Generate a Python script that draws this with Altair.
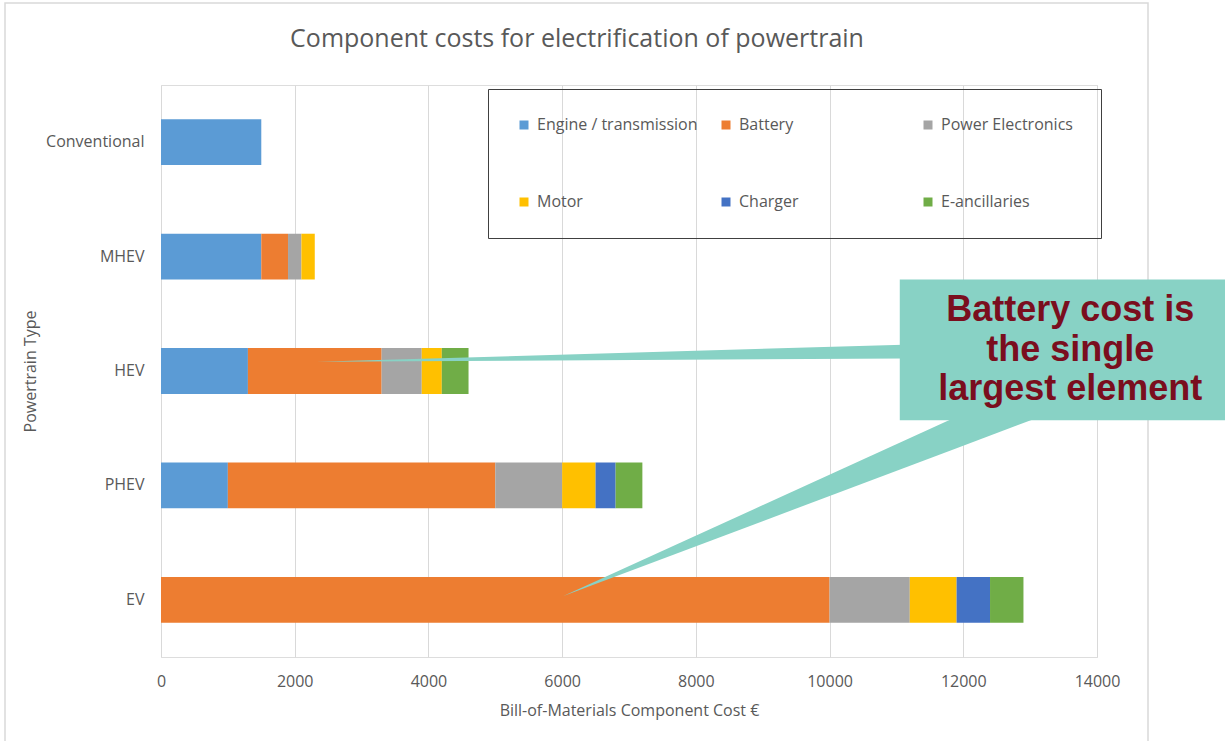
import altair as alt
import pandas as pd

# Bill-of-materials cost (EUR) per component, one value per powertrain
powertrains = ["Conventional", "MHEV", "HEV", "PHEV", "EV"]
components = ["Engine / transmission", "Battery", "Power Electronics",
              "Motor", "Charger", "E-ancillaries"]
engine_transmission = [1500, 1500, 1300, 1000, 0]
battery = [0, 400, 2000, 4000, 10000]
power_electronics = [0, 200, 600, 1000, 1200]
motor = [0, 200, 300, 500, 700]
charger = [0, 0, 0, 300, 500]
e_ancillaries = [0, 0, 400, 400, 500]
component_colors = ["#5B9BD5", "#ED7D31", "#A5A5A5", "#FFC000", "#4472C4", "#70AD47"]

series = [engine_transmission, battery, power_electronics, motor, charger, e_ancillaries]
rows = []
for ci, (comp, values) in enumerate(zip(components, series)):
    for pt, v in zip(powertrains, values):
        if v > 0:
            rows.append({"powertrain": pt, "component": comp, "order": ci, "cost": v})
bars_df = pd.DataFrame(rows)

FONT = "Open Sans"
GREY_TEXT = "#595959"
X_DOMAIN = [0, 14000]
X_TITLE = "Bill-of-Materials Component Cost €"
ROW_DOMAIN = [0, 5]          # row units: category i is centred on i + 0.5
TEAL = "#88D2C5"

# Callout box (x in EUR, y in row units) and the two pointers
callout_box = {"x": 11050, "x2": 16500, "y": 1.70, "y2": 2.93}
pointer_hev = [(11100, 2.27), (11100, 2.39), (2330, 2.42)]
pointer_ev = [(11900, 2.90), (13150, 2.90), (6010, 4.47)]
callout_text = "Battery cost is\nthe single\nlargest element"


def polygon_slices(pts, name):
    """Vertical extents of a convex polygon at each vertex x, for an area mark."""
    out = []
    n = len(pts)
    for x in sorted(set(p[0] for p in pts)):
        ys = []
        for i in range(n):
            (x1, y1), (x2, y2) = pts[i], pts[(i + 1) % n]
            if x1 == x2:
                if x == x1:
                    ys += [y1, y2]
            elif min(x1, x2) <= x <= max(x1, x2):
                ys.append(y1 + (y2 - y1) * (x - x1) / (x2 - x1))
        out.append({"id": name, "x": x, "lo": min(ys), "hi": max(ys)})
    return out


pointer_df = pd.DataFrame(polygon_slices(pointer_hev, "hev") + polygon_slices(pointer_ev, "ev"))

x_scale = alt.Scale(domain=X_DOMAIN, nice=False)
x_axis = alt.Axis(values=list(range(0, 14001, 2000)), format="d", labelFlush=False,
                  grid=True, gridColor="#D9D9D9", ticks=False, tickSize=0, domain=False,
                  labelFont=FONT, labelFontSize=16, labelColor=GREY_TEXT, labelPadding=16,
                  titleFont=FONT, titleFontSize=16, titleColor=GREY_TEXT,
                  titleFontWeight="normal", titlePadding=13)
row_scale = alt.Scale(domain=ROW_DOMAIN, reverse=True, nice=False, zero=False)

# Light outer frame of the chart
frame = alt.Chart(alt.Data(values=[{}])).mark_rect(
    fill=None, stroke="#D9D9D9", strokeWidth=1.5
).encode(x=alt.value(-156), x2=alt.value(987), y=alt.value(-82), y2=alt.value(700))

bars = alt.Chart(bars_df).mark_bar().encode(
    x=alt.X("cost:Q", stack="zero", scale=x_scale, title=X_TITLE, axis=x_axis),
    y=alt.Y("powertrain:N", sort=powertrains, title="Powertrain Type",
            scale=alt.Scale(paddingInner=0.6, paddingOuter=0.3),
            axis=alt.Axis(ticks=False, tickSize=0, domain=False, grid=False, labelFont=FONT,
                          labelFontSize=16, labelColor=GREY_TEXT, labelPadding=17,
                          titleFont=FONT, titleFontSize=16, titleColor=GREY_TEXT,
                          titleFontWeight="normal", titleAngle=270, titleX=-131,
                          titleY=286, titleBaseline="middle", titleAlign="center")),
    color=alt.Color("component:N", sort=components,
                    scale=alt.Scale(domain=components, range=component_colors),
                    legend=alt.Legend(title=None, orient="none", legendX=327, legendY=4,
                                      direction="horizontal", columns=3, gridAlign="all",
                                      columnPadding=20, rowPadding=61, padding=28,
                                      strokeColor="#404040", symbolType="square",
                                      symbolSize=81, symbolStrokeWidth=0, labelFont=FONT,
                                      labelFontSize=16, labelColor=GREY_TEXT,
                                      labelOffset=5, labelLimit=300)),
    order=alt.Order("order:Q"),
)

box = alt.Chart(alt.Data(values=[callout_box])).mark_rect(color=TEAL).encode(
    x=alt.X("x:Q", scale=x_scale, axis=x_axis, title=X_TITLE),
    x2="x2:Q",
    y=alt.Y("y:Q", scale=row_scale, axis=None),
    y2="y2:Q",
)

pointers = alt.Chart(pointer_df).mark_area(color=TEAL, opacity=1).encode(
    x=alt.X("x:Q", scale=x_scale, axis=x_axis, title=X_TITLE),
    y=alt.Y("lo:Q", scale=row_scale, axis=None, stack=None),
    y2="hi:Q",
    detail="id:N",
)

label = alt.Chart(alt.Data(values=[{"x": 13600, "y": 2.063, "t": callout_text}])).mark_text(
    font="Liberation Sans", fontSize=36, fontWeight="bold", color="#7A0E1E",
    align="center", baseline="alphabetic", lineBreak="\n", lineHeight=39.5
).encode(
    x=alt.X("x:Q", scale=x_scale, axis=x_axis, title=X_TITLE),
    y=alt.Y("y:Q", scale=row_scale, axis=None),
    text="t:N",
)

chart = alt.layer(frame, bars, pointers, box, label).resolve_scale(
    y="independent"
).properties(
    width=936,
    height=572,
    padding={"left": 161, "top": 85, "right": 128, "bottom": 84},
    autosize=alt.AutoSizeParams(type="none"),
    title=alt.TitleParams(
        "Component costs for electrification of powertrain", font=FONT, fontSize=25,
        fontWeight="normal", color=GREY_TEXT, anchor="middle", frame="group",
        dx=-52, offset=-70, baseline="alphabetic"),
).configure_view(stroke="transparent", strokeWidth=0).configure_axis(
    domain=False
).configure(background="white")

chart.save("out.html", embed_options={"renderer": "svg", "actions": False})
